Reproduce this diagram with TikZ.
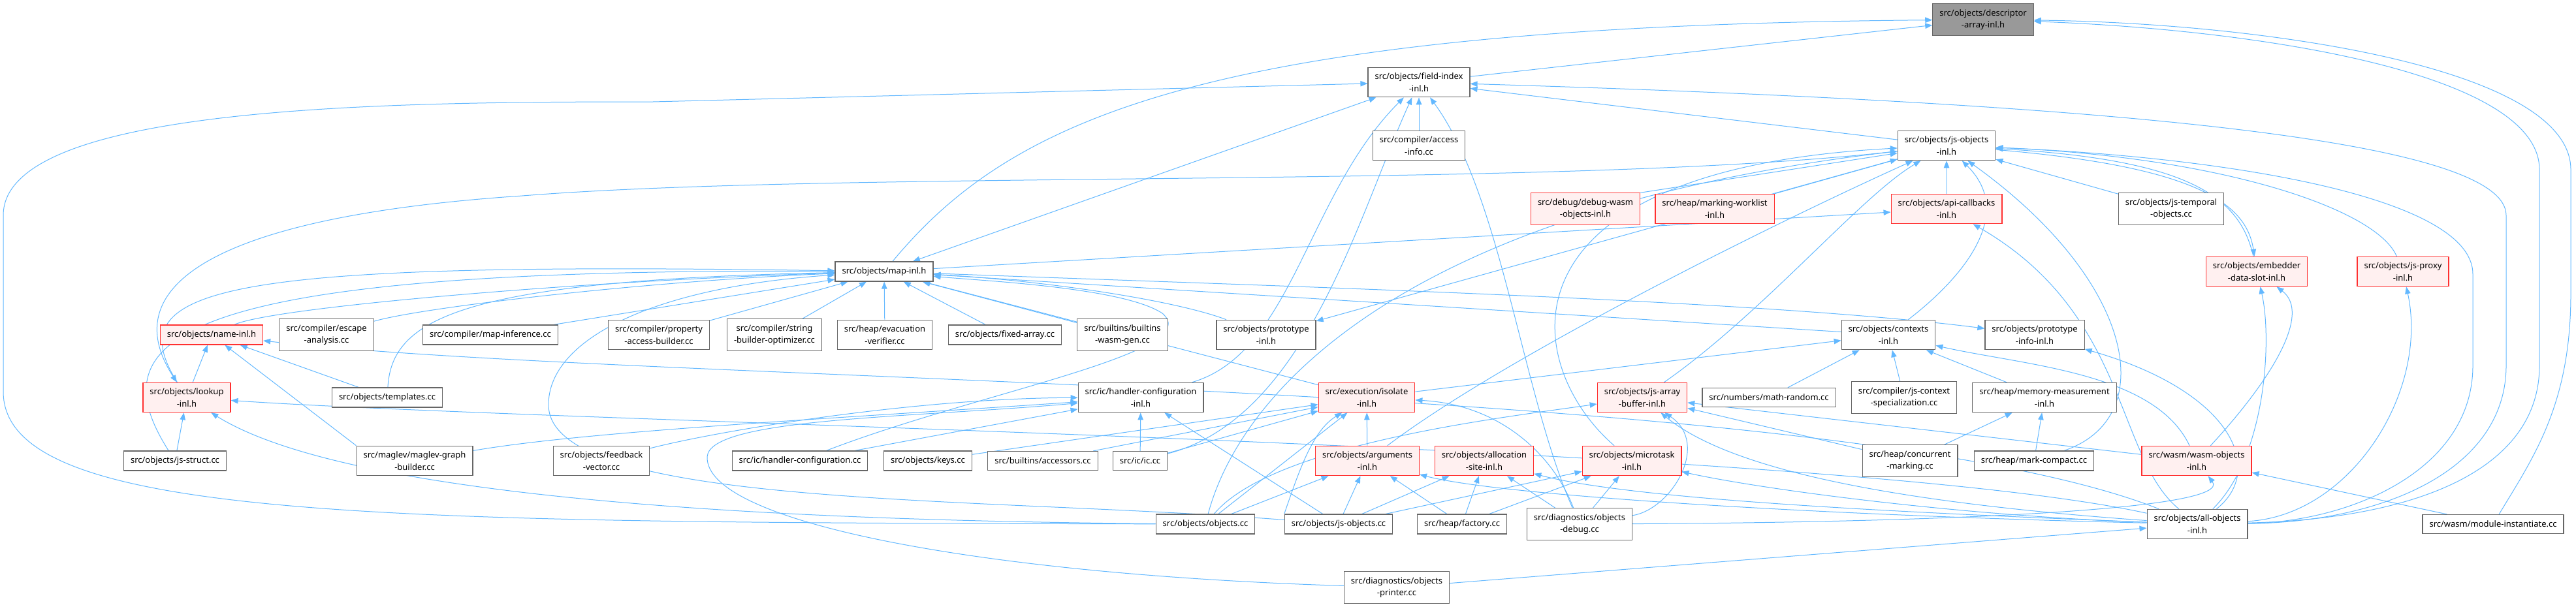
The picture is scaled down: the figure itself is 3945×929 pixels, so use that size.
\documentclass[tikz,border=0pt]{standalone}
\usepackage{fontspec}
\setmainfont{Noto Sans}
\usepackage{tikz}
\usetikzlibrary{arrows.meta,backgrounds}
\definecolor{edgeblue}{HTML}{63B8FF}
\definecolor{boxgray}{HTML}{666666}
\definecolor{partred}{HTML}{FF3030}
\definecolor{partfill}{HTML}{FFF0F0}
\definecolor{rootfill}{HTML}{999999}

\begin{document}
\begin{tikzpicture}[
  x=1pt, y=-1pt,
  file/.style={draw=boxgray, line width=1.2pt, fill=white, align=center,
               inner xsep=10.5pt, inner ysep=8.5pt, minimum height=29pt,
               font=\fontsize{13}{18.3}\selectfont},
  part/.style={file, draw=partred, fill=partfill},
  root/.style={file, fill=rootfill},
  dep/.style={draw=edgeblue, line width=1pt, ->},
  >={Triangle[length=11pt,width=8.5pt]}
]
  \useasboundingbox (0,0) rectangle (3945,929);

  % row 0 to 4
  \node[root] (desc)     at (3037, 30)  {src/objects/descriptor\\-array-inl.h};
  \node[file] (fidx)     at (2173, 126) {src/objects/field-index\\-inl.h};
  \node[file] (accinfo)  at (2173, 223) {src/compiler/access\\-info.cc};
  \node[file] (jsobj)    at (2981, 223) {src/objects/js-objects\\-inl.h};
  \node[part] (dbgwasm)  at (2428, 320) {src/debug/debug-wasm\\-objects-inl.h};
  \node[part] (markwl)   at (2626, 320) {src/heap/marking-worklist\\-inl.h};
  \node[part] (apicb)    at (2981, 320) {src/objects/api-callbacks\\-inl.h};
  \node[file] (jstemp)   at (3325, 320) {src/objects/js-temporal\\-objects.cc};
  \node[file] (mapinl)   at (1354, 416) {src/objects/map-inl.h};
  \node[part] (embed)    at (3456, 416) {src/objects/embedder\\-data-slot-inl.h};
  \node[part] (jsproxy)  at (3680, 416) {src/objects/js-proxy\\-inl.h};

  % row 5
  \node[part] (namei)    at (324, 513)  {src/objects/name-inl.h};
  \node[file] (escape)   at (500, 513)  {src/compiler/escape\\-analysis.cc};
  \node[file] (mapinf)   at (751, 513)  {src/compiler/map-inference.cc};
  \node[file] (propacc)  at (1009, 513) {src/compiler/property\\-access-builder.cc};
  \node[file] (strbld)   at (1186, 513) {src/compiler/string\\-builder-optimizer.cc};
  \node[file] (evac)     at (1355, 513) {src/heap/evacuation\\-verifier.cc};
  \node[file] (fixarr)   at (1539, 513) {src/objects/fixed-array.cc};
  \node[file] (bwasm)    at (1719, 513) {src/builtins/builtins\\-wasm-gen.cc};
  \node[file] (protoi)   at (1939, 513) {src/objects/prototype\\-inl.h};
  \node[file] (ctx)      at (2892, 513) {src/objects/contexts\\-inl.h};
  \node[file] (protoinfo) at (3116, 513) {src/objects/prototype\\-info-inl.h};

  % row 6
  \node[part] (lookup)   at (286, 609)  {src/objects/lookup\\-inl.h};
  \node[file] (tmpl)     at (593, 609)  {src/objects/templates.cc};
  \node[file] (hcfgi)    at (1747, 609) {src/ic/handler-configuration\\-inl.h};
  \node[part] (isolate)  at (2093, 609) {src/execution/isolate\\-inl.h};
  \node[part] (jsab)     at (2515, 609) {src/objects/js-array\\-buffer-inl.h};
  \node[file] (mathrnd)  at (2709, 609) {src/numbers/math-random.cc};
  \node[file] (jsctx)    at (2916, 609) {src/compiler/js-context\\-specialization.cc};
  \node[file] (memmeas)  at (3131, 609) {src/heap/memory-measurement\\-inl.h};

  % row 7
  \node[file] (jsstruct) at (268, 706)  {src/objects/js-struct.cc};
  \node[file] (maglev)   at (635, 706)  {src/maglev/maglev-graph\\-builder.cc};
  \node[file] (fbvec)    at (921, 706)  {src/objects/feedback\\-vector.cc};
  \node[file] (hcfgcc)   at (1225, 706) {src/ic/handler-configuration.cc};
  \node[file] (keys)     at (1421, 706) {src/objects/keys.cc};
  \node[file] (accessors) at (1597, 706) {src/builtins/accessors.cc};
  \node[file] (iccc)     at (1746, 706) {src/ic/ic.cc};
  \node[part] (args)     at (2094, 706) {src/objects/arguments\\-inl.h};
  \node[part] (allocsite) at (2273, 706) {src/objects/allocation\\-site-inl.h};
  \node[part] (microtask) at (2499, 706) {src/objects/microtask\\-inl.h};
  \node[file] (concmark) at (2925, 706) {src/heap/concurrent\\-marking.cc};
  \node[file] (markcomp) at (3115, 706) {src/heap/mark-compact.cc};
  \node[part] (wasmobj)  at (3364, 706) {src/wasm/wasm-objects\\-inl.h};

  % row 8 and 9
  \node[file] (objcc)    at (1846, 803) {src/objects/objects.cc};
  \node[file] (jsobjcc)  at (2050, 803) {src/objects/js-objects.cc};
  \node[file] (factory)  at (2239, 803) {src/heap/factory.cc};
  \node[file] (objdbg)   at (2419, 803) {src/diagnostics/objects\\-debug.cc};
  \node[file] (allobj)   at (3365, 803) {src/objects/all-objects\\-inl.h};
  \node[file] (modinst)  at (3818, 803) {src/wasm/module-instantiate.cc};
  \node[file] (objprn)   at (2139, 900) {src/diagnostics/objects\\-printer.cc};

  \begin{scope}[on background layer]
  % descriptor-array-inl.h
  \draw[dep] (fidx) -- (desc);
  \draw[dep] (mapinl) .. controls (1550,180) and (1850,40) .. (desc);
  \draw[dep] (allobj) .. controls (3700,795) and (3889,720) .. (3889,560) -- (3889,260) .. controls (3889,110) and (3450,45) .. (desc);
  \draw[dep] (modinst) .. controls (3880,700) and (3937,620) .. (3937,450) -- (3937,260) .. controls (3937,100) and (3450,35) .. (desc);
  % field-index-inl.h
  \draw[dep] (accinfo) -- (fidx);
  \draw[dep] (jsobj) -- (fidx);
  \draw[dep] (allobj) .. controls (3650,800) and (3838,720) .. (3838,560) -- (3838,330) .. controls (3838,220) and (3300,160) .. (fidx);
  \draw[dep] (objcc) .. controls (600,800) and (5,800) .. (5,600) -- (5,330) .. controls (5,160) and (600,156) .. (1000,156) -- (fidx);
  \draw[dep, <->] (mapinl) -- (fidx);
  \draw[dep] (hcfgi) .. controls (1980,540) and (2000,300) .. (fidx);
  \draw[dep] (iccc) .. controls (2000,640) and (2080,330) .. (fidx);
  \draw[dep] (objdbg) .. controls (2330,600) and (2300,300) .. (fidx);
  % js-objects-inl.h
  \draw[dep] (apicb) -- (jsobj);
  \draw[dep] (dbgwasm.north east) -- (jsobj);
  \draw[dep] (markwl.north east) -- (jsobj);
  \draw[dep] (jstemp) -- (jsobj);
  \draw[dep] (embed) .. controls (3430,300) and (3350,245) .. (jsobj);
  \draw[dep] (jsobj) .. controls (3360,255) and (3440,310) .. (embed);
  \draw[dep] (jsproxy) .. controls (3640,320) and (3400,240) .. (jsobj);
  \draw[dep] (ctx) .. controls (3000,430) and (3090,330) .. (jsobj);
  \draw[dep] (jsab) .. controls (2700,480) and (2850,300) .. (jsobj);
  \draw[dep] (args) .. controls (2300,550) and (2700,350) .. (jsobj);
  \draw[dep] (microtask) .. controls (2330,560) and (2280,260) .. (jsobj);
  \draw[dep] (objcc) .. controls (1900,600) and (2150,320) .. (jsobj);
  \draw[dep] (markcomp) .. controls (3310,640) and (3270,430) .. (jsobj);
  \draw[dep] (allobj) .. controls (3600,800) and (3787,720) .. (3787,560) -- (3787,420) .. controls (3787,300) and (3400,240) .. (jsobj);
  \draw[dep] (jsobj) .. controls (2400,290) and (1300,260) .. (800,300) .. controls (350,330) and (170,430) .. (lookup);
  \draw[dep] (jsobj) -- (protoi);
  % map-inl.h
  \draw[dep] (mapinl) -- (apicb);
  \draw[dep] (mapinl) .. controls (2000,440) and (2700,460) .. (protoinfo);
  \draw[dep] (namei) .. controls (420,470) and (900,430) .. (mapinl);
  \draw[dep] (escape) .. controls (650,470) and (1000,430) .. (mapinl);
  \draw[dep] (mapinf) -- (mapinl);
  \draw[dep] (propacc) -- (mapinl);
  \draw[dep] (strbld) -- (mapinl);
  \draw[dep] (evac) -- (mapinl);
  \draw[dep] (fixarr) -- (mapinl);
  \draw[dep] (bwasm) -- (mapinl);
  \draw[dep] (protoi) .. controls (1800,460) and (1600,430) .. (mapinl);
  \draw[dep] (ctx) -- (mapinl);
  \draw[dep] (isolate) -- (mapinl);
  \draw[dep] (tmpl) .. controls (600,490) and (700,430) .. (mapinl);
  \draw[dep] (lookup) .. controls (180,440) and (330,400) .. (mapinl);
  \draw[dep] (jsstruct) .. controls (150,520) and (250,410) .. (mapinl);
  \draw[dep] (jsobjcc) .. controls (1500,760) and (840,780) .. (840,620) .. controls (840,520) and (1000,440) .. (mapinl);
  \draw[dep] (hcfgcc) .. controls (1500,600) and (1850,540) .. (1780,480) .. controls (1720,440) and (1500,430) .. (mapinl);
  % name-inl.h and lookup-inl.h
  \draw[dep] (lookup) -- (namei);
  \draw[dep] (tmpl) -- (namei);
  \draw[dep] (maglev.north west) -- (namei);
  \draw[dep] (allobj) .. controls (2800,580) and (1000,590) .. (namei);
  \draw[dep] (jsstruct) -- (lookup);
  \draw[dep] (objcc) .. controls (900,795) and (480,730) .. (lookup);
  \draw[dep] (allobj) .. controls (2800,680) and (900,650) .. (lookup);
  % handler-configuration-inl.h
  \draw[dep] (maglev) .. controls (900,660) and (1300,640) .. (hcfgi);
  \draw[dep] (fbvec) .. controls (1100,660) and (1400,610) .. (hcfgi);
  \draw[dep] (hcfgcc) -- (hcfgi);
  \draw[dep] (iccc) -- (hcfgi);
  \draw[dep] (jsobjcc) -- (hcfgi);
  \draw[dep] (objprn) .. controls (1500,880) and (1080,800) .. (1083,700) .. controls (1086,640) and (1400,640) .. (hcfgi);
  % isolate-inl.h and contexts-inl.h
  \draw[dep] (keys) -- (isolate);
  \draw[dep] (accessors) -- (isolate);
  \draw[dep] (iccc) -- (isolate);
  \draw[dep] (args) -- (isolate);
  \draw[dep] (jsobjcc.north west) .. controls (1990,720) and (2010,660) .. (isolate);
  \draw[dep] (objcc) -- (isolate);
  \draw[dep] (objdbg) .. controls (2380,700) and (2300,620) .. (isolate);
  \draw[dep] (isolate) -- (ctx);
  \draw[dep] (mathrnd) -- (ctx);
  \draw[dep] (jsctx) -- (ctx);
  \draw[dep] (memmeas) -- (ctx);
  \draw[dep] (wasmobj) .. controls (3300,570) and (3100,560) .. (ctx);
  % prototype-info-inl.h and memory-measurement-inl.h
  \draw[dep] (allobj) .. controls (3470,720) and (3420,600) .. (protoinfo);
  \draw[dep] (concmark) -- (memmeas);
  \draw[dep] (markcomp) -- (memmeas);
  % js-array-buffer-inl.h
  \draw[dep] (concmark) -- (jsab);
  \draw[dep] (wasmobj) -- (jsab);
  \draw[dep] (objdbg) .. controls (2560,780) and (2620,680) .. (jsab);
  \draw[dep] (objcc) .. controls (1950,680) and (2300,640) .. (jsab);
  \draw[dep] (allobj) .. controls (2900,770) and (2650,720) .. (jsab);
  % arguments, allocation-site, microtask
  \draw[dep] (jsobjcc) -- (args);
  \draw[dep] (factory) -- (args);
  \draw[dep] (objcc) -- (args);
  \draw[dep] (allobj) .. controls (2800,790) and (2300,760) .. (args);
  \draw[dep] (jsobjcc) -- (allocsite);
  \draw[dep] (factory) -- (allocsite);
  \draw[dep] (objdbg) -- (allocsite);
  \draw[dep] (allobj) .. controls (2900,785) and (2500,765) .. (allocsite);
  \draw[dep] (jsobjcc) -- (microtask);
  \draw[dep] (factory) -- (microtask);
  \draw[dep] (objdbg) -- (microtask);
  \draw[dep] (allobj) .. controls (3000,790) and (2700,750) .. (microtask);
  % wasm-objects, embedder, js-proxy, api-callbacks
  \draw[dep] (modinst) -- (wasmobj);
  \draw[dep] (objdbg) .. controls (3000,800) and (3420,780) .. (wasmobj);
  \draw[dep] (wasmobj) .. controls (3480,580) and (3540,480) .. (embed);
  \draw[dep] (allobj) .. controls (3470,700) and (3480,520) .. (embed);
  \draw[dep] (allobj) .. controls (3600,790) and (3720,600) .. (jsproxy);
  \draw[dep] (allobj) .. controls (3240,700) and (3260,480) .. (apicb);
  % all-objects-inl.h
  \draw[dep] (objprn) -- (allobj);
  \end{scope}
\end{tikzpicture}
\end{document}
